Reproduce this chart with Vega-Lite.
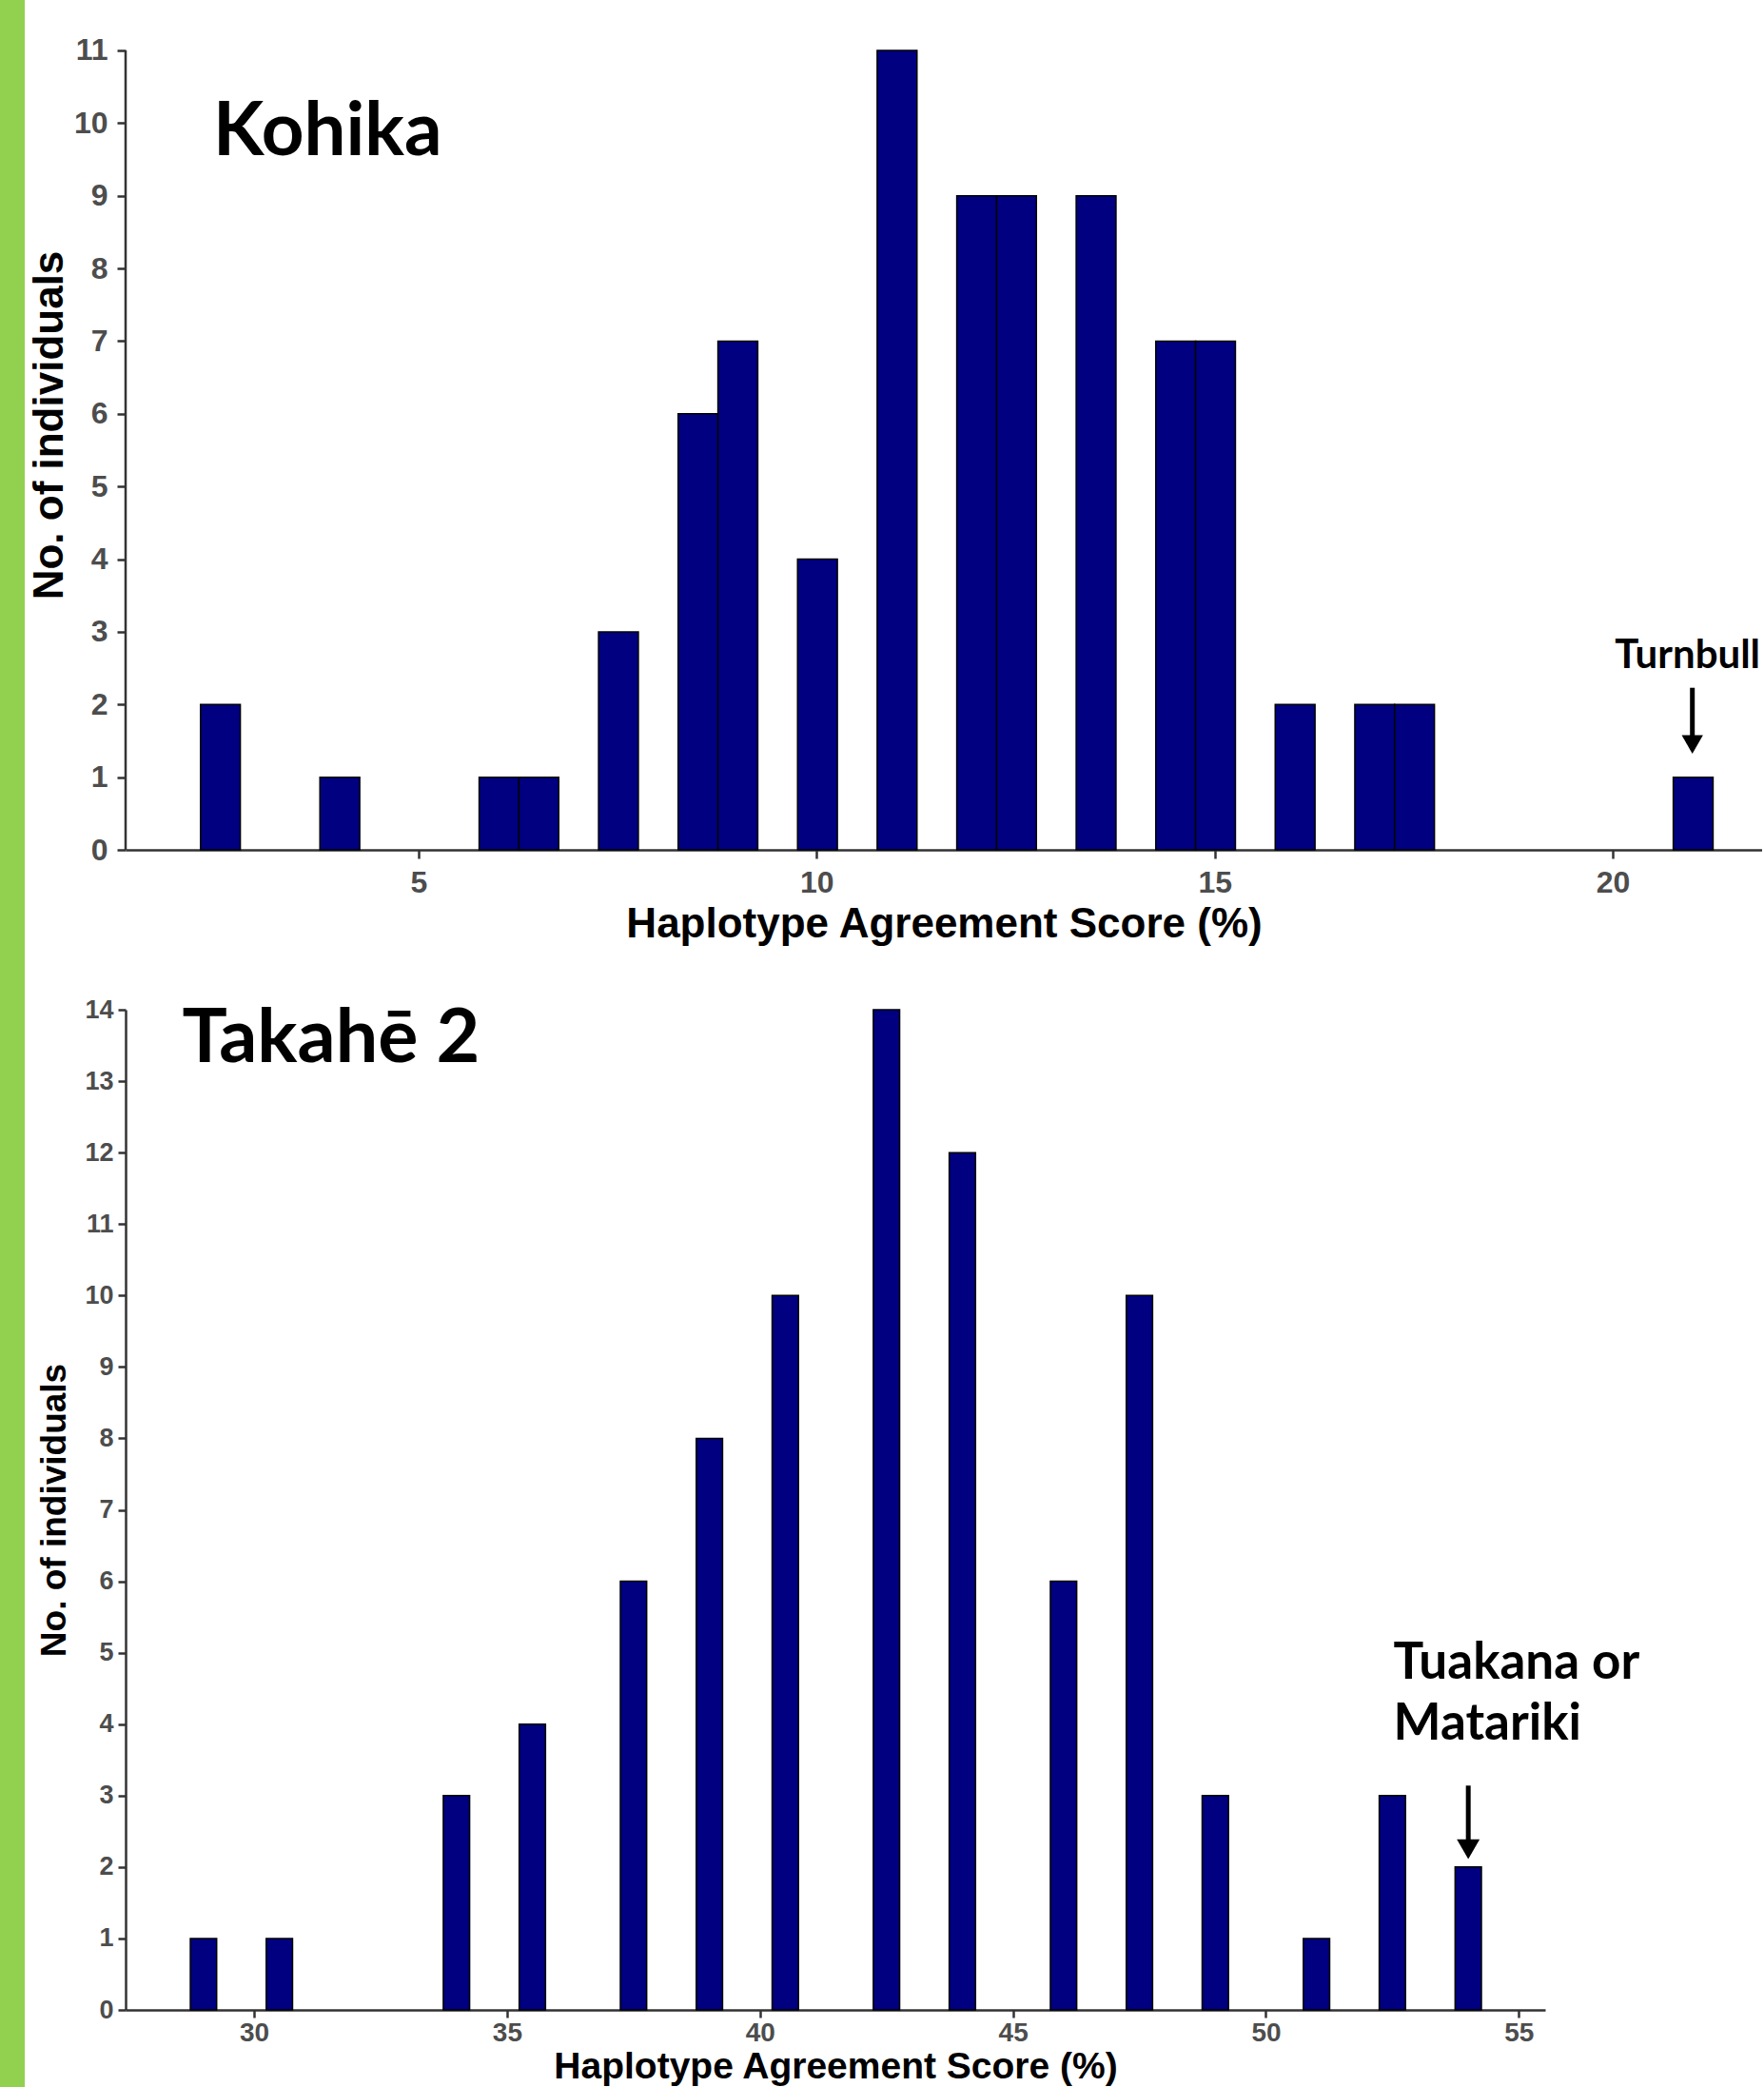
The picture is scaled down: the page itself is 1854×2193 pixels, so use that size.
{
  "$schema": "https://vega.github.io/schema/vega-lite/v6.json",
  "padding": 0,
  "background": "white",
  "spacing": 4,
  "config": {
    "view": {"stroke": null},
    "axis": {
      "grid": false,
      "domainColor": "#333333",
      "domainWidth": 2.5,
      "tickColor": "#333333",
      "tickWidth": 2.5,
      "labelColor": "#4d4d4d",
      "labelFont": "Liberation Sans",
      "labelFontWeight": "bold",
      "titleFont": "Liberation Sans",
      "titleFontWeight": "bold",
      "titleColor": "#000000"
    }
  },
  "datasets": {
    "kohika": [
      {"lo": 2.26, "hi": 2.76, "n": 2},
      {"lo": 3.76, "hi": 4.26, "n": 1},
      {"lo": 5.76, "hi": 6.26, "n": 1},
      {"lo": 6.26, "hi": 6.76, "n": 1},
      {"lo": 7.26, "hi": 7.76, "n": 3},
      {"lo": 8.26, "hi": 8.76, "n": 6},
      {"lo": 8.76, "hi": 9.26, "n": 7},
      {"lo": 9.76, "hi": 10.26, "n": 4},
      {"lo": 10.76, "hi": 11.26, "n": 11},
      {"lo": 11.76, "hi": 12.26, "n": 9},
      {"lo": 12.26, "hi": 12.76, "n": 9},
      {"lo": 13.26, "hi": 13.76, "n": 9},
      {"lo": 14.26, "hi": 14.76, "n": 7},
      {"lo": 14.76, "hi": 15.26, "n": 7},
      {"lo": 15.76, "hi": 16.26, "n": 2},
      {"lo": 16.76, "hi": 17.26, "n": 2},
      {"lo": 17.26, "hi": 17.76, "n": 2},
      {"lo": 20.76, "hi": 21.26, "n": 1}
    ],
    "takahe": [
      {"lo": 28.74, "hi": 29.26, "n": 1},
      {"lo": 30.24, "hi": 30.76, "n": 1},
      {"lo": 33.74, "hi": 34.26, "n": 3},
      {"lo": 35.24, "hi": 35.76, "n": 4},
      {"lo": 37.24, "hi": 37.76, "n": 6},
      {"lo": 38.74, "hi": 39.26, "n": 8},
      {"lo": 40.24, "hi": 40.76, "n": 10},
      {"lo": 42.24, "hi": 42.76, "n": 14},
      {"lo": 43.74, "hi": 44.26, "n": 12},
      {"lo": 45.74, "hi": 46.26, "n": 6},
      {"lo": 47.24, "hi": 47.76, "n": 10},
      {"lo": 48.74, "hi": 49.26, "n": 3},
      {"lo": 50.74, "hi": 51.26, "n": 1},
      {"lo": 52.24, "hi": 52.76, "n": 3},
      {"lo": 53.74, "hi": 54.26, "n": 2}
    ],
    "kohika_axis": [{"score": 1.319, "from": 0, "to": 11}],
    "kohika_panel": [{"label": "Kohika", "score": 2.42, "count": 9.56}],
    "kohika_note": [{"label": "Turnbull", "score": 20.94, "count": 2.5}],
    "kohika_arrow": [{"score": 21.0, "top": 2.23, "tip": 1.5, "head": 1.45}],
    "takahe_panel": [{"label": "Takahē 2", "score": 28.58, "count": 13.27}],
    "takahe_note": [{"label": "Tuakana or\nMatariki", "score": 52.52, "count": 4.63}],
    "takahe_arrow": [{"score": 54.0, "top": 3.14, "tip": 2.3, "head": 2.25}]
  },
  "hconcat": [
    {
      "width": 26,
      "height": 2193,
      "data": {"values": [{"strip": 1}]},
      "mark": {"type": "rect", "fill": "#92D050", "strokeWidth": 0},
      "encoding": {}
    },
    {
      "spacing": 168,
      "bounds": "flush",
      "vconcat": [
        {
          "width": 1720,
          "height": 893,
          "layer": [
            {
              "data": {"name": "kohika"},
              "mark": {"type": "rect", "fill": "#000080", "stroke": "#000000", "strokeWidth": 1.5},
              "encoding": {
                "x": {
                  "field": "lo", "type": "quantitative",
                  "title": "Haplotype Agreement Score (%)",
                  "scale": {"domain": [1.319, 21.876], "nice": false, "zero": false},
                  "axis": {"values": [5, 10, 15, 20], "format": "d", "tickSize": 9, "labelPadding": 10, "labelFontSize": 32, "titleFontSize": 44, "titlePadding": 6}
                },
                "x2": {"field": "hi"},
                "y": {
                  "field": "n", "type": "quantitative",
                  "title": "No. of individuals",
                  "scale": {"domain": [0, 11.694], "nice": false},
                  "axis": {"domain": false, "values": [0,1,2,3,4,5,6,7,8,9,10,11], "format": "d", "tickSize": 9, "labelPadding": 10, "labelFontSize": 32, "titleFontSize": 44, "titlePadding": 3}
                },
                "y2": {"datum": 0}
              }
            },
            {
              "data": {"name": "kohika_axis"},
              "mark": {"type": "rule", "color": "#333333", "strokeWidth": 2.5},
              "encoding": {
                "x": {"field": "score", "type": "quantitative", "title": "Haplotype Agreement Score (%)"},
                "y": {"field": "from", "type": "quantitative", "title": "No. of individuals"},
                "y2": {"field": "to"}
              }
            },
            {
              "data": {"name": "kohika_panel"},
              "mark": {"type": "text", "font": "Lato", "fontWeight": "bold", "fontSize": 78, "align": "left", "baseline": "alphabetic", "color": "#000000"},
              "encoding": {
                "x": {"field": "score", "type": "quantitative", "title": "Haplotype Agreement Score (%)"},
                "y": {"field": "count", "type": "quantitative", "title": "No. of individuals"},
                "text": {"field": "label"}
              }
            },
            {
              "data": {"name": "kohika_note"},
              "mark": {"type": "text", "font": "Lato", "fontWeight": "bold", "fontSize": 42, "align": "center", "baseline": "alphabetic", "color": "#000000"},
              "encoding": {
                "x": {"field": "score", "type": "quantitative", "title": "Haplotype Agreement Score (%)"},
                "y": {"field": "count", "type": "quantitative", "title": "No. of individuals"},
                "text": {"field": "label"}
              }
            },
            {
              "data": {"name": "kohika_arrow"},
              "mark": {"type": "rule", "color": "#000000", "strokeWidth": 5},
              "encoding": {
                "x": {"field": "score", "type": "quantitative", "title": "Haplotype Agreement Score (%)"},
                "y": {"field": "top", "type": "quantitative", "title": "No. of individuals"},
                "y2": {"field": "tip"}
              }
            },
            {
              "data": {"name": "kohika_arrow"},
              "mark": {"type": "point", "shape": "triangle-down", "filled": true, "color": "#000000", "size": 500, "opacity": 1},
              "encoding": {
                "x": {"field": "score", "type": "quantitative", "title": "Haplotype Agreement Score (%)"},
                "y": {"field": "head", "type": "quantitative", "title": "No. of individuals"}
              }
            }
          ]
        },
        {
          "width": 1492,
          "height": 1051,
          "layer": [
            {
              "data": {"name": "takahe"},
              "mark": {"type": "rect", "fill": "#000080", "stroke": "#000000", "strokeWidth": 1.5},
              "encoding": {
                "x": {
                  "field": "lo", "type": "quantitative",
                  "title": "Haplotype Agreement Score (%)",
                  "scale": {"domain": [27.46, 55.52], "nice": false, "zero": false},
                  "axis": {"values": [30, 35, 40, 45, 50, 55], "format": "d", "tickSize": 8, "labelPadding": 2, "labelFontSize": 28, "titleFontSize": 39, "titlePadding": 2}
                },
                "x2": {"field": "hi"},
                "y": {
                  "field": "n", "type": "quantitative",
                  "title": "No. of individuals",
                  "scale": {"domain": [0, 14], "nice": false},
                  "axis": {"values": [0,1,2,3,4,5,6,7,8,9,10,11,12,13,14], "format": "d", "tickSize": 8, "labelPadding": 5, "labelFontSize": 27, "titleFontSize": 37, "titlePadding": 12}
                },
                "y2": {"datum": 0}
              }
            },
            {
              "data": {"name": "takahe_panel"},
              "mark": {"type": "text", "font": "Lato", "fontWeight": "bold", "fontSize": 79, "align": "left", "baseline": "alphabetic", "color": "#000000"},
              "encoding": {
                "x": {"field": "score", "type": "quantitative", "title": "Haplotype Agreement Score (%)"},
                "y": {"field": "count", "type": "quantitative", "title": "No. of individuals"},
                "text": {"field": "label"}
              }
            },
            {
              "data": {"name": "takahe_note"},
              "mark": {"type": "text", "font": "Lato", "fontWeight": "bold", "fontSize": 53, "lineHeight": 64, "lineBreak": "\n", "align": "left", "baseline": "alphabetic", "color": "#000000"},
              "encoding": {
                "x": {"field": "score", "type": "quantitative", "title": "Haplotype Agreement Score (%)"},
                "y": {"field": "count", "type": "quantitative", "title": "No. of individuals"},
                "text": {"field": "label"}
              }
            },
            {
              "data": {"name": "takahe_arrow"},
              "mark": {"type": "rule", "color": "#000000", "strokeWidth": 5},
              "encoding": {
                "x": {"field": "score", "type": "quantitative", "title": "Haplotype Agreement Score (%)"},
                "y": {"field": "top", "type": "quantitative", "title": "No. of individuals"},
                "y2": {"field": "tip"}
              }
            },
            {
              "data": {"name": "takahe_arrow"},
              "mark": {"type": "point", "shape": "triangle-down", "filled": true, "color": "#000000", "size": 576, "opacity": 1},
              "encoding": {
                "x": {"field": "score", "type": "quantitative", "title": "Haplotype Agreement Score (%)"},
                "y": {"field": "head", "type": "quantitative", "title": "No. of individuals"}
              }
            }
          ]
        }
      ]
    }
  ]
}
